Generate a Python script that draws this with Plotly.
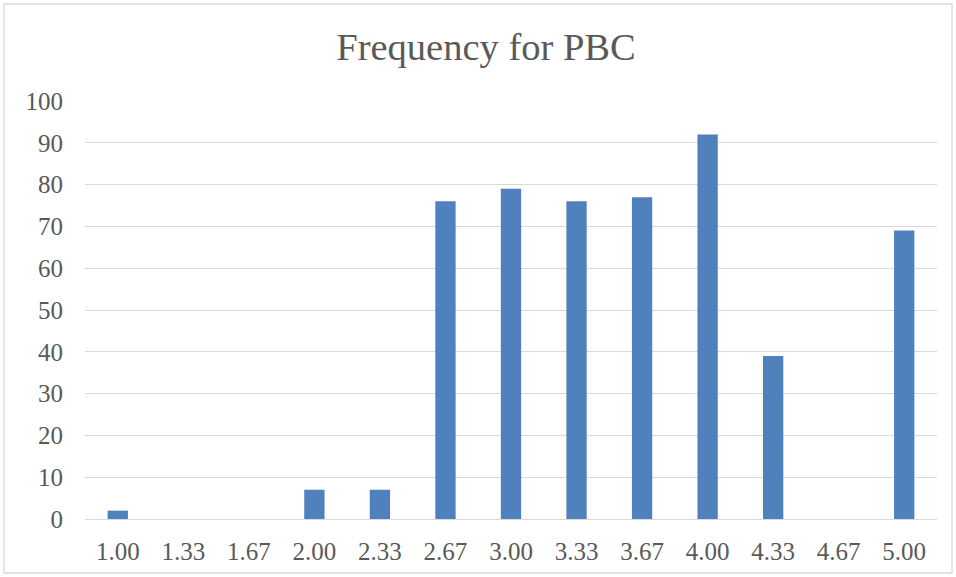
import plotly.graph_objects as go

# Score categories and their frequencies
categories = ["1.00", "1.33", "1.67", "2.00", "2.33", "2.67", "3.00",
              "3.33", "3.67", "4.00", "4.33", "4.67", "5.00"]
frequencies = [2, 0, 0, 7, 7, 76, 79, 76, 77, 92, 39, 0, 69]
y_ticks = [0, 10, 20, 30, 40, 50, 60, 70, 80, 90, 100]

W, H = 956, 577
L, R, T, B = 85, 19, 101, 58
pw, ph = W - L - R, H - T - B

font_family = "Liberation Serif"
text_color = "#595959"
grid_color = "#d9d9d9"

fig = go.Figure(
    go.Bar(
        x=categories,
        y=frequencies,
        marker=dict(color="#4f81bd", line=dict(width=0)),
        width=0.31,
        hoverinfo="x+y",
    )
)

# Outer chart border (pixel positions converted to paper fractions)
def px_x(p):
    return (p - L) / pw

def px_y(p):
    return (H - B - p) / ph

fig.add_shape(
    type="rect", xref="paper", yref="paper",
    x0=px_x(4), x1=px_x(952), y0=px_y(573), y1=px_y(4),
    line=dict(color="#d9d9d9", width=1.3), fillcolor="rgba(0,0,0,0)",
    layer="below",
)

fig.update_layout(
    width=W, height=H,
    margin=dict(l=L, r=R, t=T, b=B, pad=0),
    paper_bgcolor="white", plot_bgcolor="white",
    title=dict(
        text="Frequency for PBC",
        x=486 / W, xanchor="center", xref="container",
        y=1 - 47 / H, yanchor="middle", yref="container",
        font=dict(family=font_family, size=38.5, color=text_color),
    ),
    font=dict(family=font_family, color=text_color),
    showlegend=False,
    bargap=0.69,
)

fig.update_xaxes(
    type="category",
    showgrid=False, showline=False, zeroline=False,
    ticks="", tickfont=dict(size=25, color=text_color),
    ticklabelstandoff=15,
)
fig.update_yaxes(
    range=[0, 100], tickvals=y_ticks,
    showgrid=True, gridcolor=grid_color, gridwidth=1.3,
    zeroline=True, zerolinecolor=grid_color, zerolinewidth=1.3,
    showline=False, ticks="",
    tickfont=dict(size=25, color=text_color),
    ticklabelstandoff=21,
)

fig.write_html("out.html")
